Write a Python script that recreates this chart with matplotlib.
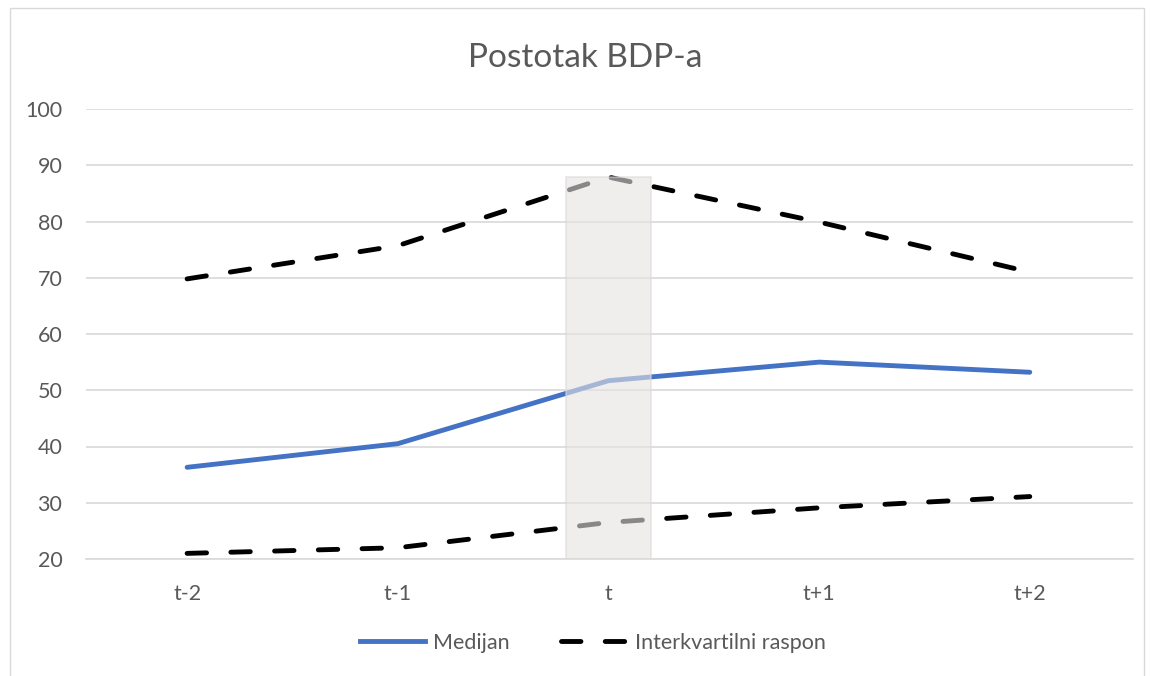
import matplotlib.pyplot as plt
from matplotlib.patches import Rectangle
from matplotlib.lines import Line2D

plt.rcParams['font.family'] = ['Lato', 'DejaVu Sans']

categories = ["t-2", "t-1", "t", "t+1", "t+2"]
median = [36.3, 40.5, 51.7, 55.0, 53.2]
upper_q = [69.8, 75.7, 87.9, 79.9, 71.0]
lower_q = [21.0, 22.0, 26.5, 29.1, 31.1]
y_ticks = [20, 30, 40, 50, 60, 70, 80, 90, 100]
highlight_top = 88

DASH = (4.0, 5.0)

fig = plt.figure(figsize=(11.51, 6.76), dpi=100)
ax = fig.add_axes([86 / 1151, 1 - 559 / 676, (1133 - 86) / 1151, (559 - 109) / 676])

x = list(range(len(categories)))
ax.plot(x, median, color="#4472C4", lw=3.5, solid_capstyle="round", label="Medijan", zorder=3)
ax.plot(x, upper_q, color="black", lw=3.5, dashes=DASH, dash_capstyle="round",
        label="Interkvartilni raspon", zorder=3)
ax.plot(x, lower_q, color="black", lw=3.5, dashes=DASH, dash_capstyle="round", zorder=3)

# shaded band over year t
ax.add_patch(Rectangle((2 - 0.2, y_ticks[0]), 0.4, highlight_top - y_ticks[0],
                       facecolor="#E6E2E2", alpha=0.6, edgecolor="#D9D9D9", lw=1.2, zorder=4))

ax.set_xlim(-0.48, 4.49)
ax.set_ylim(20, 100)
ax.set_yticks(y_ticks)
ax.set_xticks(x)
ax.set_xticklabels(categories)
ax.grid(axis="y", color="#D9D9D9", lw=1.2, zorder=0)
ax.set_axisbelow(True)
for s in ["top", "right", "left"]:
    ax.spines[s].set_visible(False)
ax.spines["bottom"].set_color("#D9D9D9")
ax.spines["bottom"].set_linewidth(1.2)
ax.tick_params(length=0, labelsize=15.5, colors="#595959")
ax.tick_params(axis="y", pad=17)
ax.tick_params(axis="x", pad=18)

fig.text(0.508, 1 - 58 / 676, "Postotak BDP-a", ha="center", va="center",
         fontsize=24, color="#595959")

handles = [Line2D([], [], color="#4472C4", lw=3.5),
           Line2D([], [], color="black", lw=3.5, dashes=DASH, dash_capstyle="round")]
fig.legend(handles, ["Medijan", "Interkvartilni raspon"], loc="center",
           bbox_to_anchor=(0.515, 1 - 643 / 676), ncol=2, frameon=False,
           fontsize=15.5, labelcolor="#595959", handlelength=3.0, columnspacing=2.4,
           handletextpad=0.4)

fig.add_artist(Rectangle((10 / 1151, -0.01), (1144 - 10) / 1151, 1 - 8 / 676 + 0.01,
                         transform=fig.transFigure, fill=False, edgecolor="#D9D9D9", lw=1))

fig.savefig("out.png", dpi=100)
